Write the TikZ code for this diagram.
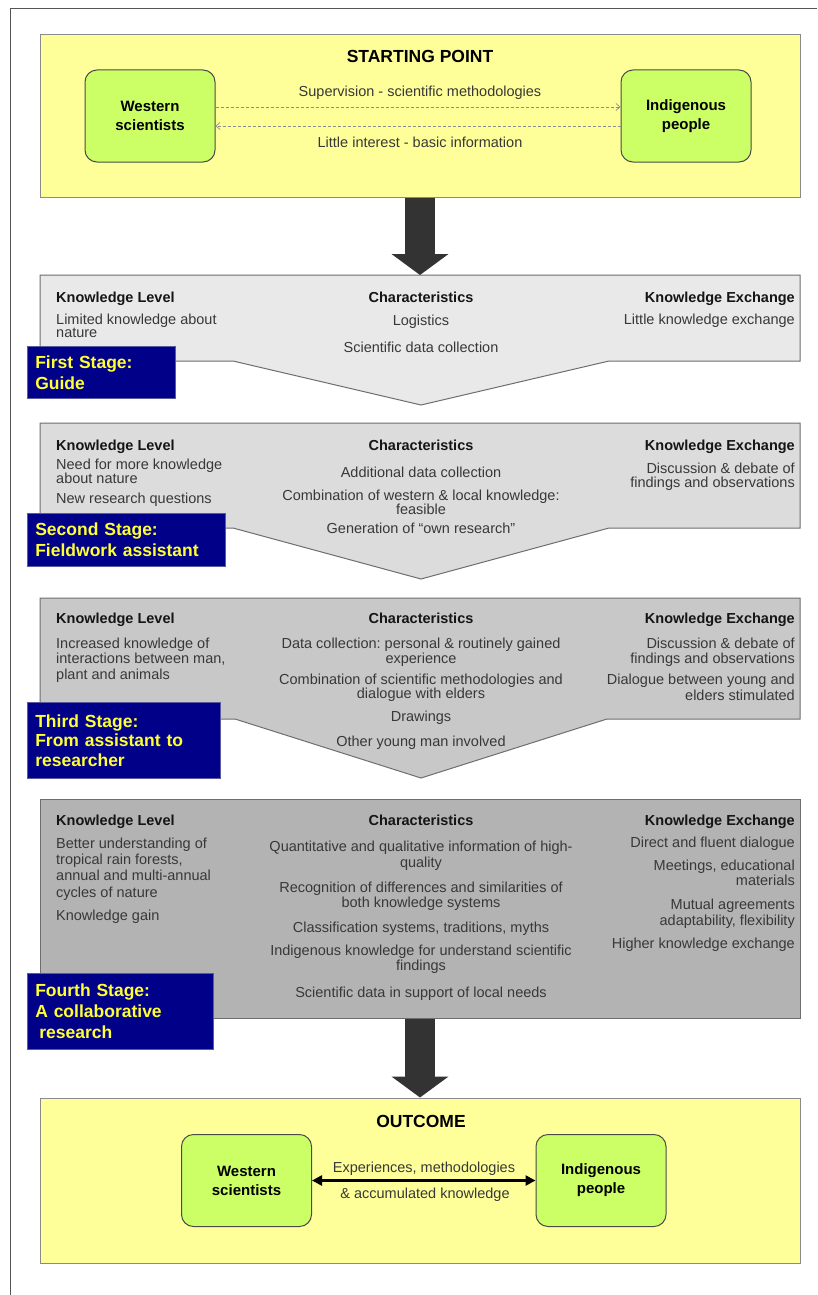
\documentclass[tikz,border=0pt]{standalone}
\usepackage{fontspec}
\setmainfont{Liberation Sans}
\usetikzlibrary{arrows.meta}
\frenchspacing
\definecolor{ybg}{HTML}{FFFF99}
\definecolor{yborder}{HTML}{8A8A8A}
\definecolor{gfill}{HTML}{CCFF66}
\definecolor{gborder}{HTML}{4A4A4A}
\definecolor{framec}{HTML}{555555}
\definecolor{arrgray}{HTML}{8C8C8C}
\definecolor{arrdark}{HTML}{333333}
\definecolor{sone}{HTML}{E9E9E9}
\definecolor{stwo}{HTML}{DCDCDC}
\definecolor{sthree}{HTML}{C8C8C8}
\definecolor{sfour}{HTML}{B3B3B3}
\definecolor{stgb}{HTML}{6E6E6E}
\definecolor{navy}{HTML}{000088}
\definecolor{navyb}{HTML}{5A5AA0}
\definecolor{lbly}{HTML}{FFFF33}
\definecolor{txtgray}{HTML}{383838}
\definecolor{hdc}{HTML}{151515}
\tikzset{
  ybox/.style={draw=yborder, fill=ybg, line width=1pt, inner sep=0pt},
  gbox/.style={draw=gborder, fill=gfill, rounded corners=12pt, line width=1pt,
    minimum width=130pt, minimum height=92pt, align=center, inner sep=0pt,
    font=\bfseries\fontsize{15}{19}\selectfont, text=black},
  ttl/.style={font=\bfseries\fontsize{17.5}{20}\selectfont, anchor=base, inner sep=0pt, text=black},
  lbl/.style={font=\fontsize{14.5}{17}\selectfont, text=txtgray, anchor=base, inner sep=0pt},
  darr/.style={draw=arrgray, dash pattern=on 3pt off 2pt, line width=0.7pt,
    -{Straight Barb[length=4pt,width=7pt]}},
  bigarr/.style={draw=arrdark, line width=30pt, -{Triangle[width=56pt,length=21pt]}},
  hd/.style={font=\bfseries\fontsize{14.5}{16}\selectfont, inner sep=0pt, text=hdc},
  itm/.style={font={\fontsize{14.5}{#1}\selectfont}, inner sep=0pt, text=txtgray},
  itm/.default=15,
  stagelbl/.style={fill=navy, draw=navyb, line width=0.6pt, text=lbly,
    font={\bfseries\fontsize{17.5}{21}\selectfont}, align=left, anchor=north west,
    inner xsep=8pt, inner ysep=0pt},
  stg/.style={draw=stgb, line width=1pt, line join=miter}
}
\begin{document}
\begin{tikzpicture}[x=1pt,y=-1pt]
\useasboundingbox (0,0) rectangle (817,1295);
\fill[white] (0,0) rectangle (817,1295);
\draw[framec, line width=1pt] (10,1295) -- (10,9) -- (817,9);

% ---------- starting point ----------
\node[ybox, minimum width=760pt, minimum height=162pt] (start) at (420,116) {};
\node[ttl] (sptitle) at (420,63) {STARTING POINT};
\node[gbox] (ws1) at (150,116) {Western\\scientists};
\node[gbox] (ip1) at (686,116) {Indigenous\\people};
\draw[darr] ([yshift=9pt]ws1.east) -- ([yshift=9pt]ip1.west);
\draw[darr] ([yshift=-10pt]ip1.west) -- ([yshift=-10pt]ws1.east);
\node[lbl] (sup) at (420,97) {Supervision - scientific methodologies};
\node[lbl] (lit) at (420,147) {Little interest - basic information};

% ---------- stage shapes ----------
\path[stg, fill=sone] (40,275) -- (800,275) -- (800,361) -- (609,361) -- (421,405) -- (233,361) -- (40,361) -- cycle;
\path[stg, fill=stwo] (40,423) -- (800,423) -- (800,528) -- (609,528) -- (421,579) -- (233,528) -- (40,528) -- cycle;
\path[stg, fill=sthree] (40,598) -- (800,598) -- (800,719) -- (607,719) -- (421,778) -- (235,719) -- (40,719) -- cycle;
\node[stg, fill=sfour, minimum width=760pt, minimum height=219pt, inner sep=0pt] (sfour) at (420,908.5) {};
\coordinate (soneTop) at (420,275);

% ---------- big arrows ----------
\draw[bigarr] (start.south) -- (soneTop);

% ---------- outcome ----------
\node[ybox, minimum width=760pt, minimum height=165pt] (outc) at (420,1180.5) {};
\draw[bigarr] (sfour.south) -- (outc.north);
\node[ttl] (octitle) at (421,1127) {OUTCOME};
\node[gbox] (ws2) at (246.5,1180.5) {Western\\scientists};
\node[gbox] (ip2) at (601,1180.5) {Indigenous\\people};
\draw[line width=2.6pt, {Triangle[width=10pt,length=10pt]}-{Triangle[width=10pt,length=10pt]}] (ws2.east) -- (ip2.west);
\node[lbl] (exp) at (424,1172) {Experiences, methodologies};
\node[lbl] (acc) at (425,1198) {\& accumulated knowledge};

% ---------- first stage ----------
\node[hd, anchor=base west] (akl) at (56,302) {Knowledge Level};
\node[hd, anchor=base] (ach) at (421,302) {Characteristics};
\node[hd, anchor=base east] (ake) at (795,302) {Knowledge Exchange};
\node[itm=13, anchor=north west, align=left] (al1) at (56,313.5) {Limited knowledge about\\nature};
\node[itm, anchor=base] (ac1) at (421,325) {Logistics};
\node[itm, anchor=base] (ac2) at (421,352) {Scientific data collection};
\node[itm, anchor=base east] (ar1) at (795,324) {Little knowledge exchange};
\node[stagelbl, text width=132pt, minimum height=52pt] (albl) at (27,346) {First Stage:\\Guide};

% ---------- second stage ----------
\node[hd, anchor=base west] (bkl) at (56,450) {Knowledge Level};
\node[hd, anchor=base] (bch) at (421,450) {Characteristics};
\node[hd, anchor=base east] (bke) at (795,450) {Knowledge Exchange};
\node[itm=14, anchor=north west, align=left] (bl1) at (56,458.5) {Need for more knowledge\\about nature};
\node[itm, anchor=base west] (bl2) at (56,503) {New research questions};
\node[itm, anchor=base] (bc1) at (421,477) {Additional data collection};
\node[itm=13, anchor=north, align=center] (bc2) at (421,489.5) {Combination of western \& local knowledge:\\feasible};
\node[itm, anchor=base] (bc3) at (421,533) {Generation of ``own research''};
\node[itm=14.5, anchor=north east, align=right] (br1) at (795,462.5) {Discussion \& debate of\\findings and observations};
\node[stagelbl, text width=182pt, minimum height=53pt] (blbl) at (27,513) {Second Stage:\\Fieldwork assistant};

% ---------- third stage ----------
\node[hd, anchor=base west] (ckl) at (56,623) {Knowledge Level};
\node[hd, anchor=base] (cch) at (421,623) {Characteristics};
\node[hd, anchor=base east] (cke) at (795,623) {Knowledge Exchange};
\node[itm=15.5, anchor=north west, align=left] (cl1) at (56,637.5) {Increased knowledge of\\interactions between man,\\plant and animals};
\node[itm=15, anchor=north, align=center] (cc1) at (421,637.5) {Data collection: personal \& routinely gained\\experience};
\node[itm=14.5, anchor=north, align=center] (cc2) at (421,673.5) {Combination of scientific methodologies and\\dialogue with elders};
\node[itm, anchor=base] (cc3) at (421,721) {Drawings};
\node[itm, anchor=base] (cc4) at (421,746) {Other young man involved};
\node[itm=15, anchor=north east, align=right] (cr1) at (795,637.5) {Discussion \& debate of\\findings and observations};
\node[itm=16, anchor=north east, align=right] (cr2) at (795,673.5) {Dialogue between young and\\elders stimulated};
\node[stagelbl, text width=177pt, minimum height=76pt, font={\bfseries\fontsize{17.5}{19.5}\selectfont}] (clbl) at (27,702) {Third Stage:\\From assistant to\\researcher};

% ---------- fourth stage ----------
\node[hd, anchor=base west] (dkl) at (56,825) {Knowledge Level};
\node[hd, anchor=base] (dch) at (421,825) {Characteristics};
\node[hd, anchor=base east] (dke) at (795,825) {Knowledge Exchange};
\node[itm=16.3, anchor=north west, align=left] (dl1) at (56,837.5) {Better understanding of\\tropical rain forests,\\annual and multi-annual\\cycles of nature};
\node[itm, anchor=base west] (dl2) at (56,920) {Knowledge gain};
\node[itm=16, anchor=north, align=center] (dc1) at (421,840.5) {Quantitative and qualitative information of high-\\quality};
\node[itm=15, anchor=north, align=center] (dc2) at (421,881.5) {Recognition of differences and similarities of\\both knowledge systems};
\node[itm, anchor=base] (dc3) at (421,932) {Classification systems, traditions, myths};
\node[itm=15, anchor=north, align=center] (dc4) at (421,944.5) {Indigenous knowledge for understand scientific\\findings};
\node[itm, anchor=base] (dc5) at (421,997) {Scientific data in support of local needs};
\node[itm, anchor=base east] (dr1) at (795,847) {Direct and fluent dialogue};
\node[itm=15, anchor=north east, align=right] (dr2) at (795,859.5) {Meetings, educational\\materials};
\node[itm=16, anchor=north east, align=right] (dr3) at (795,898.5) {Mutual agreements\\adaptability, flexibility};
\node[itm, anchor=base east] (dr4) at (795,948) {Higher knowledge exchange};
\node[stagelbl, text width=170pt, minimum height=76pt, font={\bfseries\fontsize{17.5}{21}\selectfont}] (dlbl) at (27,973) {Fourth Stage:\\A collaborative\\\hspace*{4pt}research};
\end{tikzpicture}
\end{document}
